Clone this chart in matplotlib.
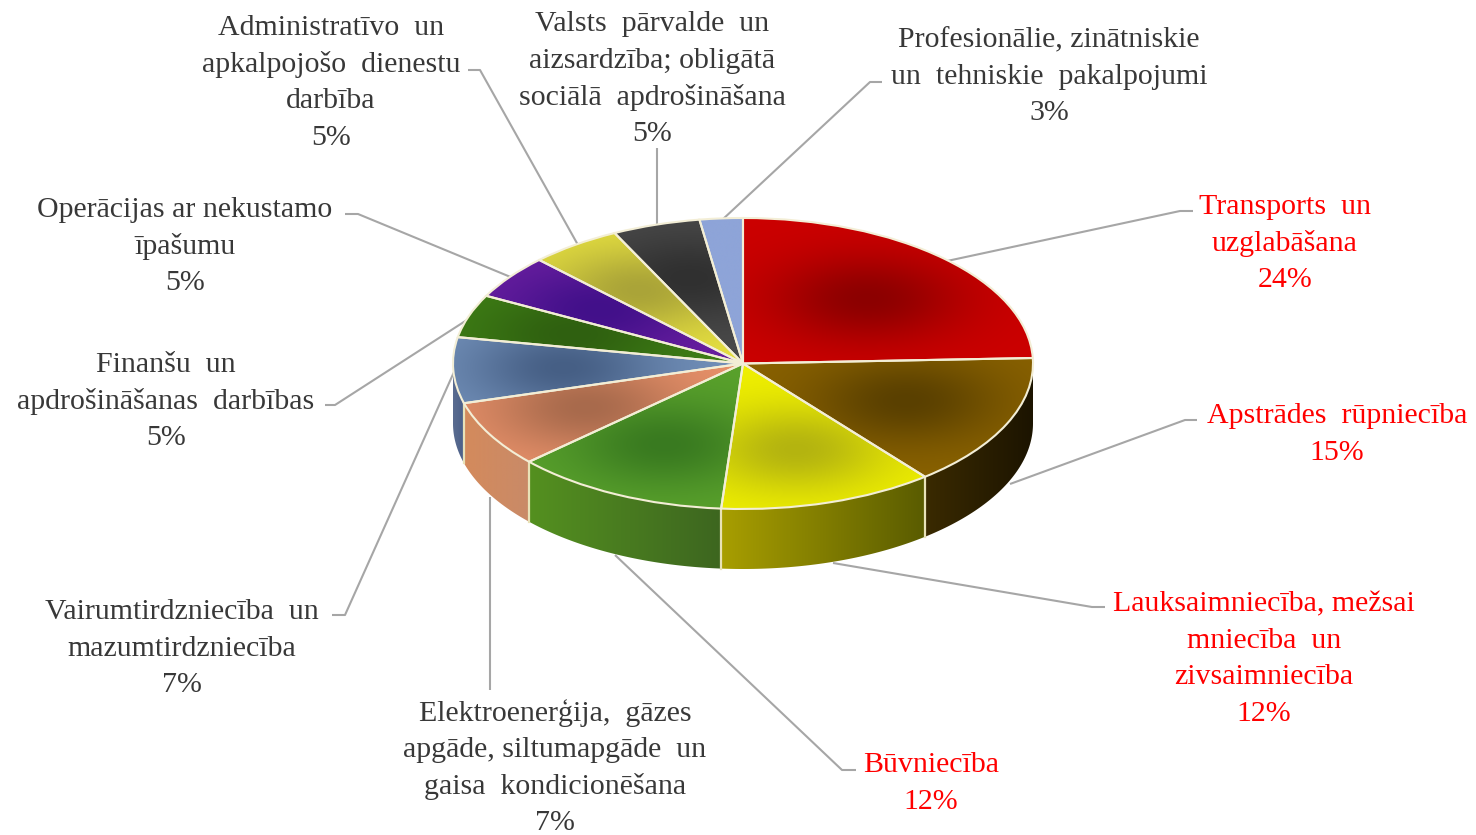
import numpy as np
from matplotlib import pyplot as plt
from matplotlib.patches import Polygon

sectors = ['Transports un uzglabāšana', 'Apstrādes rūpniecība', 'Lauksaimniecība, mežsaimniecība un zivsaimniecība',
           'Būvniecība', 'Elektroenerģija, gāzes apgāde, siltumapgāde un gaisa kondicionēšana',
           'Vairumtirdzniecība un mazumtirdzniecība', 'Finanšu un apdrošināšanas darbības',
           'Operācijas ar nekustamo īpašumu', 'Administratīvo un apkalpojošo dienestu darbība',
           'Valsts pārvalde un aizsardzība; obligātā sociālā apdrošināšana',
           'Profesionālie, zinātniskie un tehniskie pakalpojumi']
shares = [24.4, 14.8, 12.0, 12.0, 7.4, 7.3, 4.8, 4.9, 5.1, 4.9, 2.4]
percent_labels = ['24%', '15%', '12%', '12%', '7%', '7%', '5%', '5%', '5%', '5%', '3%']
label_lines = [
    ['Transports  un', 'uzglabāšana'],
    ['Apstrādes  rūpniecība'],
    ['Lauksaimniecība, mežsai', 'mniecība  un', 'zivsaimniecība'],
    ['Būvniecība'],
    ['Elektroenerģija,  gāzes', 'apgāde, siltumapgāde  un', 'gaisa  kondicionēšana'],
    ['Vairumtirdzniecība  un', 'mazumtirdzniecība'],
    ['Finanšu  un', 'apdrošināšanas  darbības'],
    ['Operācijas ar nekustamo', 'īpašumu'],
    ['Administratīvo  un', 'apkalpojošo  dienestu', 'darbība'],
    ['Valsts  pārvalde  un', 'aizsardzība; obligātā', 'sociālā  apdrošināšana'],
    ['Profesionālie, zinātniskie', 'un  tehniskie  pakalpojumi'],
]
highlighted = [True, True, True, True] + [False] * 7

# styles
edge_colors = ['#cc0000', '#8a6200', '#f0f000', '#5aa22c', '#e8916a', '#7391ba',
               '#3f7f15', '#6a1fa0', '#e6e040', '#4a4a4a', '#8ea4d8']
spot_colors = ['#8c0000', '#5a4000', '#b4b410', '#397a20', '#a86a4c', '#465f85',
               '#2f6010', '#42108a', '#aaa438', '#303030', '#8ea4d8']
wall_colors = [('#660000', '#660000'), ('#3a2a00', '#1c1400'), ('#a89e00', '#5a5c00'),
               ('#54901f', '#3d6620'), ('#d48a5c', '#c98a68'), ('#5a6c90', '#4a5f88')] + [('#444444', '#444444')] * 5

# layout in image pixels
cx, cy, rx, ry, depth = 743, 363.5, 290, 145.5, 60
label_pos = [(1285, 207), (1337, 416), (1264, 604), (931, 765), (555, 713), (182, 612),
             (166, 365), (185, 210), (331, 28), (652, 24), (1049, 40)]
line_step = 36.7
leaders = [
    [(947, 261), (1180, 211), (1193, 211)],
    [(1010, 484), (1185, 420), (1197, 420)],
    [(833, 563), (1092, 607), (1105, 607)],
    [(615, 555), (842, 770), (856, 770)],
    [(490, 497), (490, 690)],
    [(454, 372), (345, 615), (332, 615)],
    [(470, 318), (335, 405), (325, 405)],
    [(513, 278), (358, 214), (345, 214)],
    [(578, 245), (480, 70), (468, 70)],
    [(657, 225), (657, 148)],
    [(722, 220), (870, 82), (882, 82)],
]

W, H = 1476, 835
fig = plt.figure(figsize=(W / 100, H / 100), dpi=100)
base = fig.add_axes([0, 0, 1, 1])
base.axis('off')

def rgb(c):
    return np.array(plt.matplotlib.colors.to_rgb(c))

# leader lines
for pts in leaders:
    xs, ys = zip(*pts)
    base.plot(xs, ys, color='#a6a6a6', lw=1.5, zorder=1, solid_capstyle='butt')

# side walls, only the front half of the cake shows
bounds = np.cumsum([0] + shares) / sum(shares) * 360
for i in range(len(shares)):
    a0 = max(bounds[i], 90)
    a1 = min(bounds[i + 1], 270)
    if a1 <= a0:
        continue
    th = np.radians(np.linspace(a0, a1, 60))
    x = cx + rx * np.sin(th)
    y = cy - ry * np.cos(th)
    verts = np.r_[np.c_[x, y], np.c_[x[::-1], y[::-1] + depth]]
    poly = Polygon(verts, closed=True, fc='none', ec='none', zorder=2)
    base.add_patch(poly)
    c_left, c_right = rgb(wall_colors[i][1]), rgb(wall_colors[i][0])
    if x[0] < x[-1]:
        c_left, c_right = c_right, c_left
    u = np.linspace(0, 1, 64)[None, :, None]
    img = c_right[None, None, :] * (1 - u) + c_left[None, None, :] * u
    im = base.imshow(img, extent=(x.min(), x.max(), y.max() + depth, y.min()), aspect='auto', zorder=2, interpolation='bilinear')
    im.set_clip_path(poly)
    # seam between two wall pieces
    if 90 < bounds[i] < 270:
        base.plot([x[0], x[0]], [y[0], y[0] + depth], color='#e8e2b8', lw=1.6, zorder=3)

base.set_xlim(0, W)
base.set_ylim(H, 0)

# top disc as a normal pie, squashed by the axes box
disc = fig.add_axes([(cx - rx) / W, 1 - (cy + ry) / H, 2 * rx / W, 2 * ry / H])
wedges, _ = disc.pie(shares, startangle=90, counterclock=False, radius=1,
                     wedgeprops=dict(linewidth=1.5, edgecolor='#f3eed6'))
gx, gy = np.meshgrid(np.linspace(-1, 1, 400), np.linspace(1, -1, 300))
for i, w in enumerate(wedges):
    mid = np.radians((bounds[i] + bounds[i + 1]) / 2)
    sx, sy = 0.62 * np.sin(mid), 0.62 * np.cos(mid)
    t = np.exp(-(((gx - sx) / 0.33) ** 2 + ((gy - sy) / 0.3) ** 2))[..., None]
    img = rgb(edge_colors[i])[None, None, :] * (1 - t) + rgb(spot_colors[i])[None, None, :] * t
    w.set_facecolor('none')
    w.set_zorder(3)
    w.set_clip_on(False)
    im = disc.imshow(img, extent=(-1, 1, -1, 1), aspect='auto', zorder=2, interpolation='bilinear')
    im.set_clip_path(w)
disc.set_aspect('auto')
disc.set_xlim(-1, 1)
disc.set_ylim(-1, 1)
disc.patch.set_alpha(0)

# labels, one text per line because the spacing is fixed in the original
for i, lines in enumerate(label_lines):
    color = '#ff0000' if highlighted[i] else '#383838'
    x0, y0 = label_pos[i]
    for j, s in enumerate(lines + [percent_labels[i]]):
        base.text(x0, y0 + j * line_step, s, color=color, ha='center', va='center',
                  fontsize=21.5, family='Liberation Serif', zorder=5)

fig.savefig('out.png', dpi=100)
